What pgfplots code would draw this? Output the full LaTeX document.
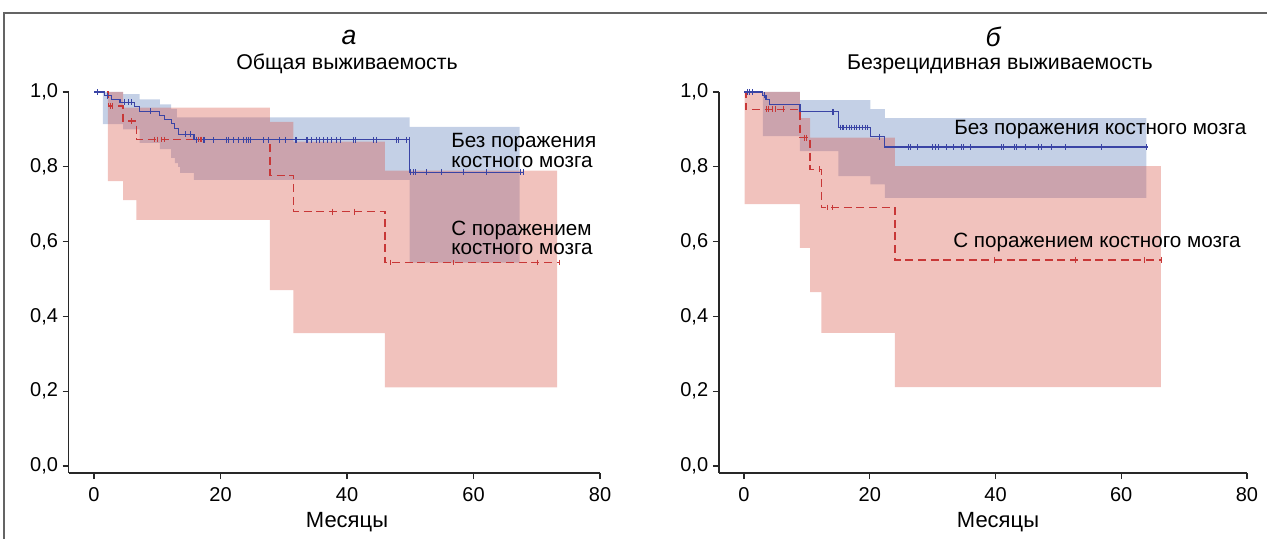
\documentclass[border=0pt]{standalone}
\usepackage{pgfplots}
\pgfplotsset{compat=1.18}
\usepackage{fontspec}
\setmainfont{Liberation Sans}
\definecolor{bline}{RGB}{58,68,165}
\definecolor{rline}{RGB}{200,55,55}
\definecolor{bfill}{RGB}{86,121,184}
\definecolor{rfill}{RGB}{215,81,66}
\definecolor{axgray}{RGB}{40,40,40}
\definecolor{framegray}{RGB}{100,100,100}
\newcommand{\tfont}{\fontsize{15}{17}\selectfont}
\newcommand{\hfont}{\fontsize{16}{18}\selectfont}
\pgfplotsset{
 kmstyle/.style={
  scale only axis, clip=false,
  xmin=-4, xmax=80, ymin=-0.0187, ymax=1.0,
  axis x line=bottom, axis y line=left,
  axis line style={-, line width=1.1pt, color=axgray},
  tick align=outside, major tick length=4.5pt,
  tick style={line width=0.9pt, color=axgray},
  xtick={0,20,40,60,80}, ytick={0,0.2,0.4,0.6,0.8,1},
  /pgf/number format/assume math mode=true,
  tick label style={font=\tfont},
  yticklabel style={/pgf/number format/.cd, fixed, fixed zerofill, precision=1, use comma},
  xticklabel style={/pgf/number format/.cd, fixed, precision=0, /tikz/.cd, yshift=-3pt},
  height=285.75pt,
 },
 band/.style={draw=none, fill=#1, fill opacity=0.35},
 cens/.style={only marks, mark=|, mark size=2.2pt, mark options={line width=0.75pt, color=#1, solid}},
 bcurve/.style={const plot, bline, line width=0.85pt, no marks},
 rcurve/.style={const plot, rline, line width=1.05pt, no marks, dash pattern=on 6pt off 3.5pt},
}
\begin{document}
\begin{tikzpicture}
\begin{scope}[x=0.75pt,y=0.75pt]
\path[use as bounding box] (0,0) rectangle (1267,539);
\draw[framegray, line width=1.1pt] (1267,526) -- (4,526) -- (4,0);
\end{scope}

% ---------------- left panel ----------------
\begin{axis}[kmstyle, at={(51.525pt,49.5pt)}, anchor=south west, width=398.5pt]
\addplot[band=bfill] coordinates {(1.4,1.0) (4.6,1.0) (4.6,0.994) (7.2,0.994) (7.2,0.98) (10.4,0.98) (10.4,0.967) (12.2,0.967) (12.2,0.955) (13.1,0.955) (13.1,0.932) (49.9,0.932) (49.9,0.907) (67.3,0.907) (67.3,0.544) (49.9,0.544) (49.9,0.765) (15.8,0.765) (15.8,0.784) (13.6,0.784) (13.6,0.80) (13.3,0.80) (13.3,0.81) (12.8,0.81) (12.8,0.824) (12.2,0.824) (12.2,0.847) (10.4,0.847) (10.4,0.864) (7.2,0.864) (7.2,0.90) (4.6,0.90) (4.6,0.914) (1.4,0.914)};
\addplot[band=rfill] coordinates {(2.2,1.0) (4.6,1.0) (4.6,0.958) (27.8,0.958) (27.8,0.92) (31.5,0.92) (31.5,0.867) (46.0,0.867) (46.0,0.79) (73.2,0.79) (73.2,0.21) (46.0,0.21) (46.0,0.355) (31.5,0.355) (31.5,0.47) (27.8,0.47) (27.8,0.658) (6.7,0.658) (6.7,0.711) (4.6,0.711) (4.6,0.762) (2.2,0.762)};
\addplot[rcurve] coordinates {(0,1) (2.3,0.963) (4.6,0.922) (6.7,0.873) (27.8,0.777) (31.5,0.68) (46.0,0.544) (73.6,0.544)};
\addplot[bcurve] coordinates {(0,1) (1.7,0.99) (2.7,0.98) (4.1,0.973) (6.4,0.961) (7.2,0.949) (10.4,0.938) (11.2,0.927) (12.2,0.916) (12.7,0.902) (13.4,0.887) (15.8,0.872) (49.9,0.785) (67.9,0.785)};
\addplot[cens=bline] coordinates {(0.6,1) (2.2,0.99) (4.9,0.973) (5.5,0.973) (6.0,0.973) (9.0,0.949) (14.5,0.887) (15.2,0.887)
 (16.2,0.872) (17.3,0.872) (17.5,0.872) (18.9,0.872) (21.0,0.872) (21.2,0.872) (22.0,0.872) (22.8,0.872) (23.6,0.872) (24.1,0.872) (24.4,0.872) (24.7,0.872) (26.8,0.872) (27.6,0.872) (29.4,0.872) (30.2,0.872) (31.8,0.872) (32.0,0.872) (33.6,0.872) (33.7,0.872) (34.4,0.872) (35.1,0.872) (35.7,0.872) (36.3,0.872) (36.9,0.872) (37.6,0.872) (38.4,0.872) (39.0,0.872) (41.0,0.872) (41.4,0.872) (44.2,0.872) (44.6,0.872) (47.9,0.872) (48.2,0.872) (49.4,0.872) (49.8,0.872)
 (50.0,0.785) (50.5,0.785) (50.9,0.785) (52.5,0.785) (55.0,0.785) (58.4,0.785) (62.1,0.785) (67.5,0.785) (67.9,0.785)};
\addplot[cens=rline] coordinates {(2.6,0.963) (3.0,0.963) (5.9,0.922) (9.6,0.873) (10.1,0.873) (10.6,0.873) (11.2,0.873) (16.5,0.873) (16.8,0.873) (17.0,0.873) (37.7,0.68) (41.2,0.68) (46.9,0.544) (56.8,0.544) (70.1,0.544) (73.6,0.544)};
\end{axis}

% ---------------- right panel ----------------
\begin{axis}[kmstyle, at={(539.14pt,49.5pt)}, anchor=south west, width=396.1pt]
\addplot[band=bfill] coordinates {(3.0,1.0) (8.9,1.0) (8.9,0.978) (20.1,0.978) (20.1,0.954) (22.4,0.954) (22.4,0.93) (64.0,0.93) (64.0,0.717) (22.4,0.717) (22.4,0.753) (20.1,0.753) (20.1,0.775) (15.0,0.775) (15.0,0.842) (8.9,0.842) (8.9,0.882) (3.0,0.882)};
\addplot[band=rfill] coordinates {(0.1,1.0) (8.9,1.0) (8.9,0.93) (10.5,0.93) (10.5,0.878) (24.0,0.878) (24.0,0.802) (66.3,0.802) (66.3,0.211) (24.0,0.211) (24.0,0.356) (12.3,0.356) (12.3,0.465) (10.5,0.465) (10.5,0.583) (8.9,0.583) (8.9,0.70) (0.1,0.70)};
\addplot[rcurve] coordinates {(0,1) (0.3,0.954) (8.9,0.878) (10.5,0.793) (12.3,0.691) (24.0,0.551) (66.4,0.551)};
\addplot[bcurve] coordinates {(0,1) (3.0,0.991) (3.5,0.98) (4.1,0.967) (8.9,0.947) (15.0,0.905) (20.1,0.88) (22.4,0.853) (64.3,0.853)};
\addplot[cens=bline] coordinates {(0.5,1) (0.9,1) (1.3,1) (3.3,0.991) (14.0,0.947) (14.2,0.947)
 (15.3,0.905) (15.6,0.905) (15.9,0.905) (16.3,0.905) (16.7,0.905) (17.1,0.905) (17.5,0.905) (17.9,0.905) (18.3,0.905) (18.8,0.905) (19.3,0.905) (19.6,0.905) (21.5,0.88)
 (26.1,0.853) (26.5,0.853) (27.6,0.853) (29.9,0.853) (30.4,0.853) (30.9,0.853) (32.2,0.853) (33.3,0.853) (34.6,0.853) (34.9,0.853) (36.1,0.853) (41.0,0.853) (41.2,0.853) (43.1,0.853) (43.4,0.853) (44.7,0.853) (46.8,0.853) (47.3,0.853) (48.9,0.853) (51.2,0.853) (56.9,0.853) (64.0,0.853)};
\addplot[cens=rline] coordinates {(3.5,0.954) (3.9,0.954) (4.5,0.954) (5.0,0.954) (6.3,0.954) (9.6,0.878) (9.9,0.878) (12.0,0.793) (13.2,0.691) (14.0,0.691) (39.8,0.551) (52.8,0.551) (63.7,0.551) (66.4,0.551)};
\end{axis}

\begin{scope}[x=0.75pt,y=0.75pt]
\node[font=\fontsize{20}{22}\selectfont\itshape] at (349,502) {а};
\node[font=\hfont] at (347,475) {Общая выживаемость};
\node[font=\fontsize{20}{22}\selectfont\itshape] at (993,502) {б};
\node[font=\hfont] at (1000,475) {Безрецидивная выживаемость};
\node[font=\fontsize{16.5}{18}\selectfont] at (347,17) {Месяцы};
\node[font=\fontsize{16.5}{18}\selectfont] at (998,17) {Месяцы};
\node[font=\fontsize{15.5}{14.6}\selectfont, align=left, anchor=west, inner sep=0pt] at (451,388.5) {Без поражения\\костного мозга};
\node[font=\fontsize{15.5}{14.6}\selectfont, align=left, anchor=west, inner sep=0pt] at (451,301.1) {С поражением\\костного мозга};
\node[font=\fontsize{15.5}{17}\selectfont, anchor=west, inner sep=0pt] at (954,409) {Без поражения костного мозга};
\node[font=\fontsize{15.5}{17}\selectfont, anchor=west, inner sep=0pt] at (953,296.7) {С поражением костного мозга};
\end{scope}
\end{tikzpicture}
\end{document}
